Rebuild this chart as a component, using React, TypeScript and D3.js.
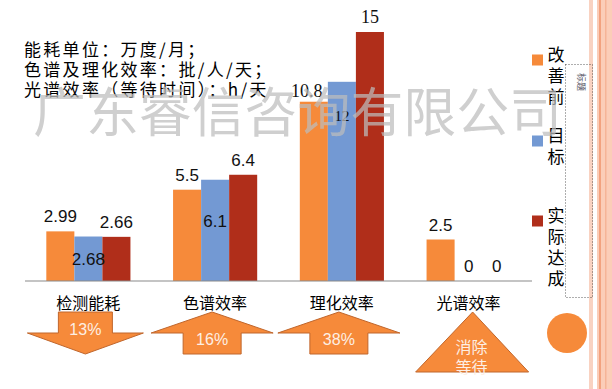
import React, { useRef, useEffect } from 'react';
import * as d3 from 'd3';

const categories = ['检测能耗', '色谱效率', '理化效率', '光谱效率'];
const seriesNames = ['改善前', '目标', '实际达成'];
const beforeValues = [2.99, 5.5, 10.8, 2.5];
const targetValues = [2.68, 6.1, 12, 0];
const actualValues = [2.66, 6.4, 15, 0];
const changeLabels = ['13%', '16%', '38%', '消除等待'];
const changeShapes = ['down', 'up', 'up', 'triangle'];
const unitNotes = ['能耗单位：万度/月；', '色谱及理化效率：批/人/天；', '光谱效率（等待时间）：h/天'];
const watermark = '广东睿信咨询有限公司';

const W = 612;
const H = 389;
const colors = ['#F68A3A', '#7399D3', '#B02E1A'];
const CJK = '"Noto Sans CJK SC", "Noto Sans", sans-serif';
const SANS = '"Liberation Sans", Arial, sans-serif';
const SERIF = '"Liberation Serif", "Times New Roman", serif';

// where the blue labels sit, measured down from the bar top
const targetLabelDy = [28, 47, 39, -9];

const App: React.FC = () => {
  const svgRef = useRef<SVGSVGElement>(null);

  useEffect(() => {
    if (!svgRef.current) return;
    document.body.style.margin = '0';
    const svg = d3.select(svgRef.current);
    svg.selectAll('*').remove();

    const series = [beforeValues, targetValues, actualValues];

    const x0 = d3.scaleBand<string>().domain(categories).range([25, 532]);
    const x1 = d3.scaleBand<string>()
      .domain(seriesNames)
      .range([0, x0.bandwidth()])
      .paddingOuter(0.76);
    const y = d3.scaleLinear().domain([0, 15]).range([281, 32]);

    // right-hand decorative stripes
    const stripes = svg.append('g');
    stripes.append('rect').attr('x', 589).attr('y', 0).attr('width', 4).attr('height', H).attr('fill', '#F9D2C1');
    stripes.append('rect').attr('x', 597).attr('y', 0).attr('width', 15).attr('height', H).attr('fill', '#FBCDB8');
    stripes.append('rect').attr('x', 599).attr('y', 0).attr('width', 2).attr('height', H).attr('fill', '#F2A27F');
    stripes.append('rect').attr('x', 605).attr('y', 0).attr('width', 1.5).attr('height', H).attr('fill', '#F5B497');

    // unit notes
    svg.append('g')
      .selectAll('text')
      .data(unitNotes)
      .enter()
      .append('text')
      .attr('x', 24)
      .attr('y', (_, i) => 56 + i * 20)
      .text(d => d)
      .style('font-family', CJK)
      .style('font-size', '17px')
      .style('letter-spacing', '2.3px')
      .style('fill', '#000');

    // bars
    const groups = svg.append('g')
      .selectAll('g')
      .data(categories)
      .enter()
      .append('g')
      .attr('transform', d => `translate(${x0(d)},0)`);

    seriesNames.forEach((name, s) => {
      groups.append('rect')
        .attr('x', x1(name)!)
        .attr('width', x1.bandwidth())
        .attr('y', (_, i) => y(series[s][i]))
        .attr('height', (_, i) => y(0) - y(series[s][i]))
        .attr('fill', colors[s]);
    });

    // value labels
    seriesNames.forEach((name, s) => {
      groups.append('text')
        .attr('x', (_, i) => x1(name)! + x1.bandwidth() / 2 + (i === 2 && s === 0 ? -7 : 0))
        .attr('y', (_, i) => {
          const v = series[s][i];
          if (s === 1) return y(v) + targetLabelDy[i];
          return y(v) - (i === 2 && s === 0 ? 5 : 9);
        })
        .attr('text-anchor', 'middle')
        .text((_, i) => String(series[s][i]))
        .style('font-family', (_, i) => (i === 2 ? SERIF : SANS))
        .style('font-size', (_, i) => (i === 2 && s === 1 ? '15px' : i === 2 ? '18px' : '17px'))
        .style('fill', '#111');
    });

    // axis line
    svg.append('line')
      .attr('x1', 25).attr('x2', 532)
      .attr('y1', y(0)).attr('y2', y(0))
      .attr('stroke', '#8a8a8a')
      .attr('stroke-width', 1.2);

    // category labels
    svg.append('g')
      .selectAll('text')
      .data(categories)
      .enter()
      .append('text')
      .attr('x', d => x0(d)! + x0.bandwidth() / 2)
      .attr('y', 309)
      .attr('text-anchor', 'middle')
      .text(d => d)
      .style('font-family', CJK)
      .style('font-size', '16px')
      .style('fill', '#000');

    // change markers below the axis
    const markers = svg.append('g');
    categories.forEach((c, i) => {
      const shape = changeShapes[i];
      const cx = x0(c)! + x0.bandwidth() / 2 + (shape === 'triangle' ? 4 : -3);
      const path = d3.path();
      if (shape === 'down') {
        path.moveTo(cx - 27, 312);
        path.lineTo(cx + 27, 312);
        path.lineTo(cx + 27, 333);
        path.lineTo(cx + 58, 333);
        path.lineTo(cx, 354);
        path.lineTo(cx - 58, 333);
        path.lineTo(cx - 27, 333);
      } else if (shape === 'up') {
        path.moveTo(cx, 312);
        path.lineTo(cx + 61, 333);
        path.lineTo(cx + 29, 333);
        path.lineTo(cx + 29, 354);
        path.lineTo(cx - 29, 354);
        path.lineTo(cx - 29, 333);
        path.lineTo(cx - 61, 333);
      } else {
        path.moveTo(cx, 312);
        path.lineTo(cx + 56, 372);
        path.lineTo(cx - 57, 372);
      }
      path.closePath();
      markers.append('path')
        .attr('d', path.toString())
        .attr('fill', colors[0])
        .attr('stroke', '#C0662C')
        .attr('stroke-width', 1);

      if (shape === 'triangle') {
        const label = changeLabels[i];
        [label.slice(0, 2), label.slice(2)].forEach((line, k) => {
          markers.append('text')
            .attr('x', cx - 1)
            .attr('y', 347 + k * 20)
            .attr('dy', '0.35em')
            .attr('text-anchor', 'middle')
            .text(line)
            .style('font-family', CJK)
            .style('font-size', '16px')
            .style('fill', '#FDEFE4');
        });
      } else {
        markers.append('text')
          .attr('x', cx)
          .attr('y', shape === 'down' ? 329 : 339)
          .attr('dy', '0.35em')
          .attr('text-anchor', 'middle')
          .text(changeLabels[i])
          .style('font-family', SANS)
          .style('font-size', '16px')
          .style('fill', '#FDEFE4');
      }
    });

    // circle ornament
    svg.append('circle')
      .attr('cx', 567).attr('cy', 333).attr('r', 20)
      .attr('fill', colors[0]);

    // legend
    const legendTop = [60, 141, 221];
    const legend = svg.append('g');
    seriesNames.forEach((name, s) => {
      legend.append('rect')
        .attr('x', 532).attr('y', legendTop[s] - 5.5)
        .attr('width', 11).attr('height', 11)
        .attr('fill', colors[s]);
      name.split('').forEach((ch, k) => {
        legend.append('text')
          .attr('x', 556)
          .attr('y', legendTop[s] - 5 + k * 21)
          .attr('dy', '0.35em')
          .attr('text-anchor', 'middle')
          .text(ch)
          .style('font-family', CJK)
          .style('font-size', '17px')
          .style('fill', '#000');
      });
    });

    // dotted title placeholder box
    svg.append('rect')
      .attr('x', 565.5).attr('y', 64.5)
      .attr('width', 27).attr('height', 233)
      .attr('fill', 'none')
      .attr('stroke', '#333')
      .attr('stroke-width', 0.8)
      .attr('stroke-dasharray', '1,2');
    svg.append('text')
      .attr('transform', 'translate(578,82) rotate(90)')
      .attr('text-anchor', 'middle')
      .text('标题')
      .style('font-family', CJK)
      .style('font-size', '9px')
      .style('fill', '#556');

    // watermark on top
    svg.append('text')
      .attr('x', 33)
      .attr('y', 113)
      .attr('dy', '0.35em')
      .attr('textLength', 529)
      .attr('lengthAdjust', 'spacingAndGlyphs')
      .text(watermark)
      .style('font-family', CJK)
      .style('font-size', '53px')
      .style('fill', '#bdbdbd')
      .style('opacity', 0.72);
  }, []);

  return (
    <svg
      ref={svgRef}
      width={W}
      height={H}
      style={{ position: 'fixed', left: 0, top: 0, background: '#fff' }}
    />
  );
};

export default App;
